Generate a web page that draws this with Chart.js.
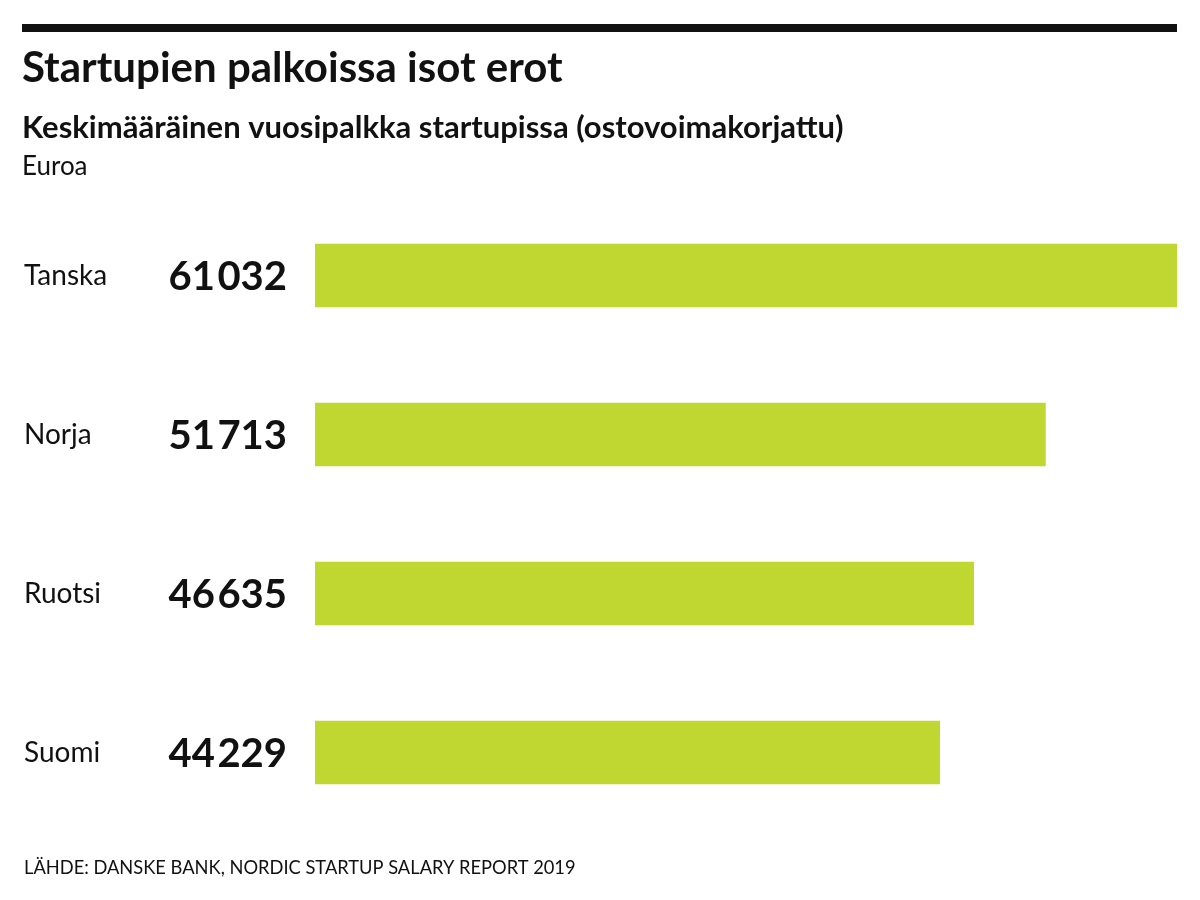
<!DOCTYPE html>
<html>
<head>
<meta charset="utf-8">
<script src="https://cdn.jsdelivr.net/npm/chart.js@4"></script>
<style>
  html, body { margin: 0; padding: 0; background: #fff; }
  canvas { display: block; }
</style>
</head>
<body>
<canvas id="c" width="1200" height="900"></canvas>
<script>
const categories = ['Tanska', 'Norja', 'Ruotsi', 'Suomi'];
const salaries = [61032, 51713, 46635, 44229];
const titleText = 'Startupien palkoissa isot erot';
const subtitleText = 'Keskimääräinen vuosipalkka startupissa (ostovoimakorjattu)';
const unitText = 'Euroa';
const sourceText = 'LÄHDE: DANSKE BANK, NORDIC STARTUP SALARY REPORT 2019';

const INK = '#111111';
const BAR = '#c0d732';
const FONT = 'Lato, "Open Sans", sans-serif';

function fmt(v) {
  return String(v).replace(/\B(?=(\d{3})+(?!\d))/g, '\u200A');
}

const decor = {
  id: 'decor',
  afterDraw(chart) {
    const ctx = chart.ctx;
    ctx.save();
    ctx.fillStyle = INK;
    ctx.fillRect(22, 24, 1155, 8);
    ctx.textAlign = 'left';
    ctx.textBaseline = 'alphabetic';
    ctx.font = 'bold 42px ' + FONT;
    ctx.fillText(titleText, 22, 82);
    ctx.font = 'bold 31px ' + FONT;
    ctx.fillText(subtitleText, 22, 138);
    ctx.font = '26px ' + FONT;
    ctx.fillText(unitText, 22, 175);
    ctx.font = '18.3px ' + FONT;
    ctx.fillText(sourceText, 24, 874);
    // value labels
    const y = chart.scales.y;
    ctx.font = 'bold 40px ' + FONT;
    ctx.textAlign = 'right';
    ctx.textBaseline = 'middle';
    salaries.forEach((v, i) => {
      ctx.fillText(fmt(v), 287, y.getPixelForValue(i) + 2);
    });
    ctx.restore();
  }
};

function build() {
  new Chart(document.getElementById('c'), {
    type: 'bar',
    data: {
      labels: categories,
      datasets: [{
        data: salaries,
        backgroundColor: BAR,
        borderWidth: 0,
        barThickness: 63
      }]
    },
    options: {
      indexAxis: 'y',
      responsive: false,
      devicePixelRatio: 1,
      animation: false,
      layout: { padding: { left: 24, right: 23, top: 196, bottom: 68 } },
      plugins: {
        legend: { display: false },
        tooltip: { enabled: false },
        title: { display: false }
      },
      scales: {
        x: { display: false, min: 0, max: 61032 },
        y: {
          grid: { display: false },
          border: { display: false },
          ticks: {
            crossAlign: 'far',
            color: INK,
            padding: 0,
            font: { family: FONT, size: 28 }
          },
          afterFit(s) { s.width = 291; }
        }
      }
    },
    plugins: [decor]
  });
}

Promise.all([
  document.fonts.load('bold 42px Lato'),
  document.fonts.load('28px Lato')
]).then(build, build);
</script>
</body>
</html>
